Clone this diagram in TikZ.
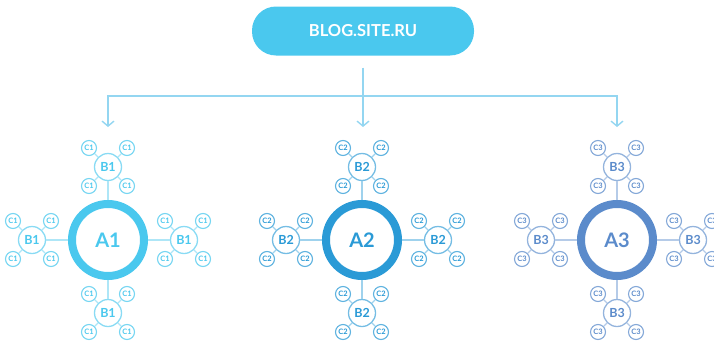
\documentclass[tikz,border=0pt]{standalone}
\usepackage{fontspec}
\setmainfont{Lato}
\usetikzlibrary{arrows.meta}
\definecolor{siteblue}{HTML}{4AC8EE}
\definecolor{linkblue}{HTML}{94D6F1}
\definecolor{clusterone}{HTML}{4AC8EE}
\definecolor{clustertwo}{HTML}{2A9AD6}
\definecolor{clusterthree}{HTML}{5B8BCB}

\begin{document}
\begin{tikzpicture}[x=1pt,y=-1pt,
    site/.style={rectangle, rounded corners=24pt, fill=siteblue, text=white,
      minimum width=222pt, minimum height=49pt,
      font=\bfseries\fontsize{16.5}{16.5}\selectfont},
    hub/.style={circle, line width=8pt, minimum size=72pt, inner sep=0pt,
      font=\bfseries\fontsize{20}{20}\selectfont},
    page/.style={circle, fill=white, line width=1.3pt, minimum size=27pt, inner sep=0pt,
      font=\bfseries\fontsize{12.5}{12.5}\selectfont},
    leaf/.style={circle, fill=white, line width=1.1pt, minimum size=15pt, inner sep=0pt,
      font=\bfseries\fontsize{7.5}{7.5}\selectfont},
    link/.style={line width=1.4pt},
    arrow/.style={link, draw=linkblue, -{Straight Barb[length=5pt,width=12pt]}}]
  \useasboundingbox (0,0) rectangle (714,340);
  % сайт
  \node[site] (site) at (363,31) {BLOG.SITE.RU};
  % стрелки к разделам
  \coordinate (left) at (108,96);
  \coordinate (right) at (617,96);
  \coordinate (tip1) at (108,127);
  \coordinate (tip2) at (363,127);
  \coordinate (tip3) at (617,127);
  \draw[arrow, shorten <=12pt] (site) -- (tip2);
  \draw[arrow, {Straight Barb[length=5pt,width=12pt]}-{Straight Barb[length=5pt,width=12pt]}]
    (tip1) -- (left) -- (right) -- (tip3);
  % разделы, подразделы и статьи
  \foreach \i/\x/\col in {1/108/clusterone, 2/362/clustertwo, 3/617/clusterthree} {
    \node[hub, draw=\col, text=\col] (A\i) at (\x,240) {A\i};
    \foreach \d/\dx/\dy in {n/0/-73, e/76/0, s/0/73, w/-76/0} {
      \node[page, draw=\col!65!white, text=\col] (B\i\d) at ([shift={(\dx,\dy)}]A\i) {B\i};
      \draw[link, draw=\col!45!white] (A\i) -- (B\i\d);
      \foreach \k/\cx/\cy in {1/-19/-19, 2/19/-19, 3/-19/19, 4/19/19} {
        \node[leaf, draw=\col!75!white, text=\col] (C\i\d\k) at ([shift={(\cx,\cy)}]B\i\d) {C\i};
        \draw[link, line width=1.1pt, draw=\col!45!white] (B\i\d) -- (C\i\d\k);
      }
    }
  }
\end{tikzpicture}
\end{document}
